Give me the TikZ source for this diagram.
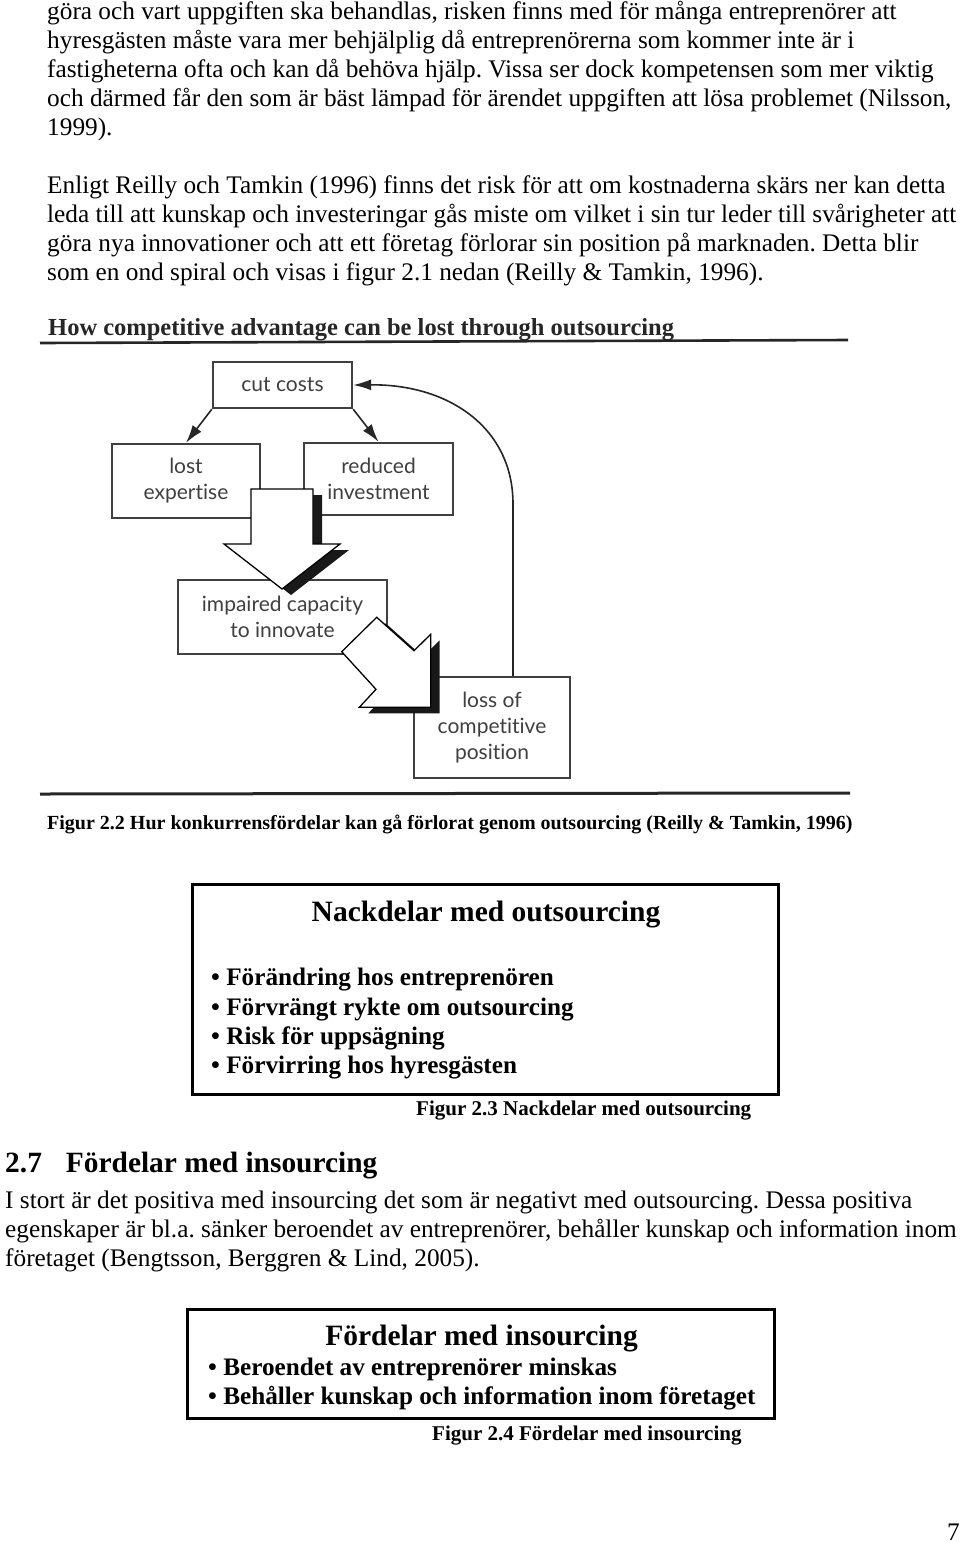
\documentclass[tikz,border=0pt]{standalone}
\usepackage{fontspec}
\setmainfont{Liberation Serif}
\newfontfamily\figsans[Ligatures=NoCommon]{Lato}
\usetikzlibrary{arrows.meta}
\frenchspacing

\tikzset{
  bodyline/.style={anchor=base west, inner sep=0pt, font=\fontsize{25.3}{29}\selectfont},
  boldline/.style={anchor=base west, inner sep=0pt, font=\fontsize{25.2}{29}\selectfont\bfseries},
  figcap/.style={anchor=base west, inner sep=0pt, font=\fontsize{21}{25}\selectfont\bfseries},
  boxtitle/.style={anchor=base, inner sep=0pt, font=\fontsize{29.5}{34}\selectfont\bfseries},
  factor/.style={draw=black!75, line width=2.4pt, fill=white, align=center, inner sep=0pt,
    font=\figsans\fontsize{21}{26}\selectfont, text=black!75},
  conn/.style={draw=black!85, line width=1.6pt, -{Latex[length=18pt,width=11pt]}},
  listbox/.style={draw=black, line width=3pt, inner sep=0pt},
  blockarrow/.style={fill=white, draw=black, line width=1.3pt, line join=miter},
  blockshadow/.style={fill=black!90},
  rule/.style={black!85, line width=2.6pt},
}

\begin{document}
\begin{tikzpicture}[x=1pt,y=-1pt]
\fill[white] (0,0) rectangle (960,1543);
\useasboundingbox (0,0) rectangle (960,1543);

% text above the figure
\node[bodyline] (p1a) at (47,19) {göra och vart uppgiften ska behandlas, risken finns med för många entreprenörer att};
\node[bodyline] (p1b) at (47,48) {hyresgästen måste vara mer behjälplig då entreprenörerna som kommer inte är i};
\node[bodyline] (p1c) at (47,77) {fastigheterna ofta och kan då behöva hjälp. Vissa ser dock kompetensen som mer viktig};
\node[bodyline] (p1d) at (47,106) {och därmed får den som är bäst lämpad för ärendet uppgiften att lösa problemet (Nilsson,};
\node[bodyline] (p1e) at (47,135) {1999).};
\node[bodyline] (p2a) at (47,193) {Enligt Reilly och Tamkin (1996) finns det risk för att om kostnaderna skärs ner kan detta};
\node[bodyline] (p2b) at (47,222) {leda till att kunskap och investeringar gås miste om vilket i sin tur leder till svårigheter att};
\node[bodyline] (p2c) at (47,251) {göra nya innovationer och att ett företag förlorar sin position på marknaden. Detta blir};
\node[bodyline] (p2d) at (47,280) {som en ond spiral och visas i figur 2.1 nedan (Reilly \& Tamkin, 1996).};

% figure 2.2
\node[anchor=base west, inner sep=0pt, font=\fontsize{24.5}{28}\selectfont\bfseries, text=black!85] (figtitle) at (48,335)
  {How competitive advantage can be lost through outsourcing};
\draw[rule] (40,343) -- (848,340);

\node[factor, minimum width=139pt, minimum height=46pt] (cut) at (282.5,385) {cut costs};
\node[factor, minimum width=148pt, minimum height=74pt] (lost) at (186,481) {lost\\expertise};
\node[factor, minimum width=149pt, minimum height=72pt] (reduced) at (378.5,479) {reduced\\investment};
\node[factor, minimum width=209pt, minimum height=74pt] (impaired) at (282.5,617) {impaired capacity\\to innovate};
\node[factor, minimum width=156pt, minimum height=101pt] (loss) at (492,727.5) {loss of\\competitive\\position};

\draw[conn] (cut.south west) -- (lost.north);
\draw[conn] (cut.south east) -- (reduced.north);
\draw[conn] ([xshift=21pt]loss.north) -- ++(0,-172) .. controls ++(0,-75) and (450,384) .. (cut.east);

% hollow block arrows with shadow
\fill[blockshadow, shift={(9,6)}] (251,489) -- (313,489) -- (313,544) -- (340,544) -- (282,589) -- (224,544) -- (251,544) -- cycle;
\path[blockarrow] (251,489) -- (313,489) -- (313,544) -- (340,544) -- (282,589) -- (224,544) -- (251,544) -- cycle;
\fill[blockshadow, shift={(9,6)}] (376.7,617.3) -- (414,650.7) -- (430.7,634.3) -- (430.7,707.3) -- (359.3,707.3) -- (376,689.3) -- (341.7,651.7) -- cycle;
\path[blockarrow] (376.7,617.3) -- (414,650.7) -- (430.7,634.3) -- (430.7,707.3) -- (359.3,707.3) -- (376,689.3) -- (341.7,651.7) -- cycle;

\draw[rule, line width=3pt] (40,794) -- (850,793);
\node[figcap, font=\fontsize{20}{24}\selectfont\bfseries] (cap22) at (47,829)
  {Figur 2.2 Hur konkurrensfördelar kan gå förlorat genom outsourcing (Reilly \& Tamkin, 1996)};

% figure 2.3
\node[listbox, minimum width=586pt, minimum height=210pt] (consbox) at (485,989) {};
\node[boxtitle] (constitle) at (486,921) {Nackdelar med outsourcing};
\node[boldline] (cons1) at (211,985) {• Förändring hos entreprenören};
\node[boldline] (cons2) at (211,1015) {• Förvrängt rykte om outsourcing};
\node[boldline] (cons3) at (211,1044) {• Risk för uppsägning};
\node[boldline] (cons4) at (211,1073) {• Förvirring hos hyresgästen};
\node[figcap] (cap23) at (416,1115) {Figur 2.3 Nackdelar med outsourcing};

% section 2.7
\node[anchor=base west, inner sep=0pt, font=\fontsize{29.4}{34}\selectfont\bfseries] (sec27) at (5,1172)
  {2.7\hspace{24pt}Fördelar med insourcing};
\node[bodyline] (p3a) at (5,1208) {I stort är det positiva med insourcing det som är negativt med outsourcing. Dessa positiva};
\node[bodyline] (p3b) at (5,1237) {egenskaper är bl.a. sänker beroendet av entreprenörer, behåller kunskap och information inom};
\node[bodyline] (p3c) at (5,1266) {företaget (Bengtsson, Berggren \& Lind, 2005).};

% figure 2.4
\node[listbox, minimum width=587pt, minimum height=109pt] (prosbox) at (480.5,1364) {};
\node[boxtitle] (prostitle) at (481.5,1345) {Fördelar med insourcing};
\node[boldline] (pros1) at (208,1375) {• Beroendet av entreprenörer minskas};
\node[boldline] (pros2) at (208,1404) {• Behåller kunskap och information inom företaget};
\node[figcap] (cap24) at (432,1440) {Figur 2.4 Fördelar med insourcing};

\node[bodyline, anchor=base east] (pagenum) at (960,1540) {7};
\end{tikzpicture}
\end{document}
